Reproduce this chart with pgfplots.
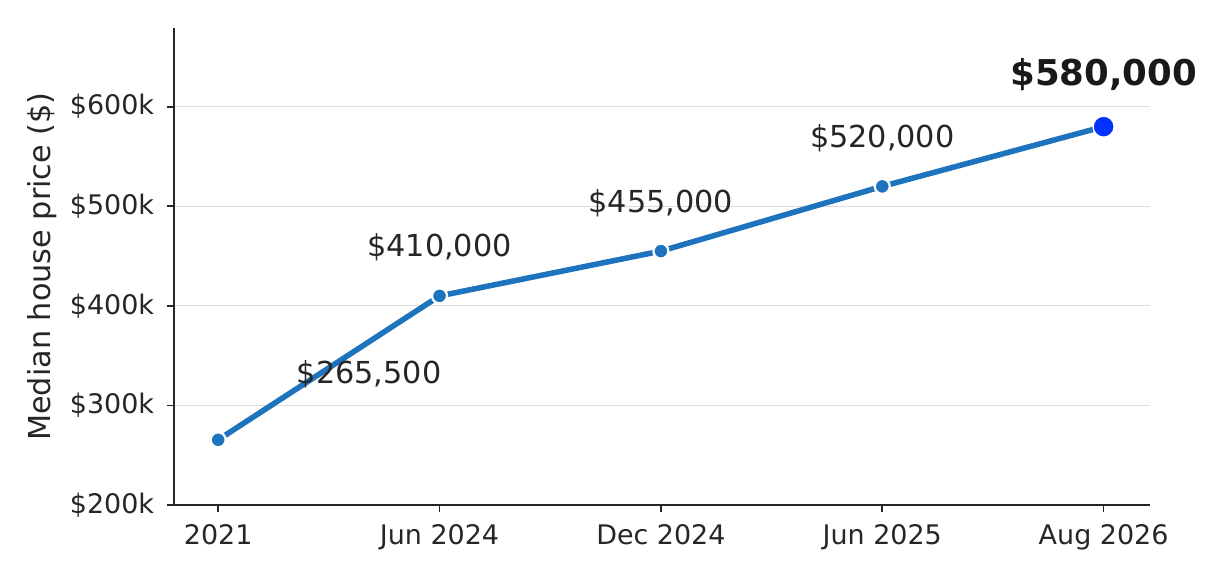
\documentclass[border=0pt]{standalone}
\usepackage{pgfplots}
\pgfplotsset{compat=1.18}
\usepackage{fontspec}
\setmainfont{DejaVu Sans}
\definecolor{lineblue}{RGB}{30,115,190}
\definecolor{hiblue}{RGB}{0,51,255}
\definecolor{axgray}{RGB}{38,38,38}
\definecolor{gridgray}{RGB}{221,221,221}
\begin{document}
\begin{tikzpicture}
\begin{axis}[
  scale only axis,
  width=351.4pt, height=171.7pt,
  xmin=-0.2, xmax=4.21,
  ymin=200000, ymax=679000,
  scaled y ticks=false,
  axis lines*=left,
  axis line style={axgray, line width=0.6pt},
  xtick={0,1,2,3,4},
  xticklabels={2021, Jun 2024, Dec 2024, Jun 2025, Aug 2026},
  ytick={200000,300000,400000,500000,600000},
  yticklabels={\$200k,\$300k,\$400k,\$500k,\$600k},
  tick align=outside,
  major tick length=2.6pt,
  tick style={axgray, line width=0.6pt},
  ymajorgrids,
  grid style={gridgray, line width=0.4pt},
  ticklabel style={font=\fontsize{9.7}{11}\selectfont, text=axgray},
  xticklabel style={yshift=-1pt},
  yticklabel style={xshift=-1pt},
  ylabel={Median house price (\$)},
  ylabel style={font=\fontsize{10.9}{12}\selectfont, text=axgray, yshift=-2pt},
  clip=false,
]
\addplot[lineblue, line width=2pt, mark=*, mark size=2.7pt,
  mark options={fill=lineblue, draw=white, line width=0.8pt}]
  coordinates {(0,265500) (1,410000) (2,455000) (3,520000) (4,580000)};
\addplot[only marks, mark=*, mark size=3.8pt,
  mark options={fill=hiblue, draw=white, line width=0.5pt}]
  coordinates {(4,580000)};
\begin{scope}[every node/.style={font=\fontsize{10.9}{12}\selectfont, text=axgray}]
\node at (axis cs:0.682,331700) {\$265,500};
\node at (axis cs:1,459300) {\$410,000};
\node at (axis cs:2,503500) {\$455,000};
\node at (axis cs:3,568800) {\$520,000};
\end{scope}
\node[font=\fontsize{12.8}{14}\selectfont\bfseries, text=black!90] at (axis cs:4,632200) {\$580,000};
\end{axis}
\pgfresetboundingbox
\useasboundingbox ([xshift=-62.6pt,yshift=-27pt]current axis.south west) rectangle ([xshift=28.4pt,yshift=10.1pt]current axis.north east);
\end{tikzpicture}
\end{document}
